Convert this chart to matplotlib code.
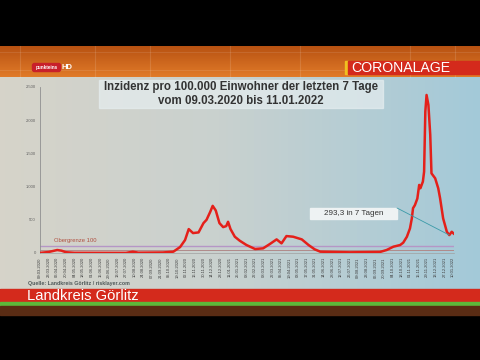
import matplotlib
matplotlib.use('Agg')
import matplotlib.pyplot as plt
import matplotlib.dates as mdates
from matplotlib.patches import Rectangle, FancyBboxPatch, ConnectionPatch
import numpy as np
import pandas as pd

plt.rcParams['font.family'] = ['Liberation Sans', 'DejaVu Sans']

# 7-Tage-Inzidenz Landkreis Görlitz
dates = [
    '2020-03-09', '2020-03-23', '2020-03-30', '2020-04-06', '2020-04-13',
    '2020-04-20', '2020-05-04', '2020-07-27', '2020-08-07', '2020-08-16',
    '2020-09-25', '2020-10-12', '2020-10-23', '2020-10-31', '2020-11-06',
    '2020-11-13', '2020-11-22', '2020-11-30', '2020-12-05', '2020-12-11',
    '2020-12-15', '2020-12-20', '2020-12-26', '2021-01-01', '2021-01-06',
    '2021-01-09', '2021-01-13', '2021-01-20', '2021-01-28', '2021-02-08',
    '2021-02-22', '2021-03-07', '2021-03-18', '2021-03-29', '2021-04-06',
    '2021-04-14', '2021-04-25', '2021-05-09', '2021-05-20', '2021-05-30',
    '2021-06-08', '2021-07-26', '2021-09-13', '2021-09-24', '2021-10-05',
    '2021-10-16', '2021-10-21', '2021-10-27', '2021-11-01', '2021-11-04',
    '2021-11-06', '2021-11-09', '2021-11-13', '2021-11-16', '2021-11-18',
    '2021-11-22', '2021-11-24', '2021-11-26', '2021-11-28', '2021-12-01',
    '2021-12-04', '2021-12-06', '2021-12-12', '2021-12-17', '2021-12-20',
    '2021-12-25', '2021-12-31', '2022-01-04', '2022-01-08', '2022-01-11',
]
incidence = [
    2, 15, 30, 45, 35,
    12, 3, 2, 20, 5,
    8, 20, 90, 195, 360,
    300, 310, 450, 500, 620,
    710, 640, 450, 390, 405,
    470, 360, 245, 185, 120,
    60, 70, 135, 205, 145,
    255, 245, 205, 120, 55,
    20, 10, 15, 45, 95,
    120, 155, 245, 370, 520,
    675, 720, 820, 1025, 975,
    1075, 1225, 2130, 2380, 2230,
    1780, 1200, 1125, 975, 825,
    520, 320, 270, 320, 293.3,
]

y_ticks = [0, 500, 1000, 1500, 2000, 2500]
y_labels = ['0', '500', '1.000', '1.500', '2.000', '2.500']
limit_value = 100
lower_value = 50
start, end = '2020-03-09', '2022-01-11'

fig = plt.figure(figsize=(4.8, 3.6), dpi=100)
fig.patch.set_facecolor('black')

# frame in pixel coordinates
bg = fig.add_axes([0, 0, 1, 1])
bg.set_xlim(0, 480)
bg.set_ylim(360, 0)
bg.axis('off')

# orange band on top
top = np.linspace(0, 1, 40)[:, None]
c1, c2 = np.array([0.72, 0.32, 0.07]), np.array([0.88, 0.48, 0.16])
band = c1 + (c2 - c1) * top[..., None]
band = np.repeat(band, 2, axis=1)
bg.imshow(band, extent=[0, 480, 77, 46], aspect='auto', zorder=0)
for x in [20, 95, 150, 230, 300, 410, 455]:
    bg.plot([x, x], [46, 77], color='white', alpha=0.12, lw=0.8)
for y in [52, 70]:
    bg.plot([0, 480], [y, y], color='white', alpha=0.10, lw=0.8)

# chart background gradient
xs = np.linspace(0, 1, 200)
left = np.array([0.84, 0.83, 0.79])
mid = np.array([0.79, 0.82, 0.81])
right = np.array([0.64, 0.79, 0.85])
grad = np.where(xs[:, None] < 0.45,
                left + (mid - left) * (xs[:, None] / 0.45),
                mid + (right - mid) * ((xs[:, None] - 0.45) / 0.55))
bg.imshow(grad[None, :, :], extent=[0, 480, 289, 77], aspect='auto', zorder=0)

# bottom bands
bg.add_patch(Rectangle((0, 289), 480, 13, color='#d42a1c', zorder=1))
bg.add_patch(Rectangle((0, 302), 480, 3.5, color='#5db83a', zorder=1))
bg.add_patch(Rectangle((0, 305.5), 480, 9, color='#5a2c14', zorder=1))
bg.text(27, 296, 'Landkreis Görlitz', color='white', fontsize=10.6,
        va='center', ha='left', zorder=2)
bg.text(28, 283.5, 'Quelle: Landkreis Görlitz / risklayer.com', color='#4e5858',
        fontsize=3.8, va='center', ha='left', weight='bold', zorder=2)

# channel logo
bg.add_patch(FancyBboxPatch((33, 64), 27, 7, boxstyle='round,pad=0.5,rounding_size=2',
                            color='#c8202a', zorder=2))
bg.text(46.5, 67, 'punkteins', color='white', fontsize=3.3, weight='bold',
        ha='center', va='center', zorder=3)
bg.text(61.5, 67.5, 'HD', color='white', fontsize=5.5, weight='bold',
        ha='left', va='center', zorder=3)

# CORONALAGE tag
bg.add_patch(Rectangle((345, 61), 3, 13, color='#f0c020', zorder=2))
bg.add_patch(Rectangle((348, 61), 132, 13, color='#d42a1c', zorder=2))
bg.text(351, 67.8, 'CORONALAGE', color='white', fontsize=10.2, ha='left',
        va='center', zorder=3)

# title box
bg.add_patch(Rectangle((99, 80), 284, 28, color='#e6eef0', alpha=0.7, zorder=2))
bg.text(241, 94, 'Inzidenz pro 100.000 Einwohner der letzten 7 Tage\nvom 09.03.2020 bis 11.01.2022',
        color='#333333', fontsize=8.3, weight='bold', ha='center', va='center',
        linespacing=1.15, zorder=3)

# chart
ax = fig.add_axes([40 / 480, 1 - 253 / 360, 413.6 / 480, (253 - 87) / 360])
ax.patch.set_alpha(0)
ax.set_xlim(pd.Timestamp(start), pd.Timestamp(end))
ax.set_ylim(0, 2500)

ax.axhline(limit_value, color='#b596c6', lw=1.0, zorder=1)
ax.axhline(lower_value, color='#b08a8a', lw=0.7, zorder=1)
ax.text(pd.Timestamp('2020-03-31'), 150, 'Obergrenze 100', color='#b05040',
        fontsize=4.2, ha='left', va='bottom')

ax.plot(pd.to_datetime(dates), incidence, color='#e4201a', lw=1.8,
        solid_joinstyle='round', zorder=3)

ticks = pd.date_range(start, end, freq='14D')
ax.set_xticks(ticks)
ax.set_xticklabels([t.strftime('%d.%m.%Y') for t in ticks], rotation=90,
                   fontsize=3, color='#404040')
ax.set_yticks(y_ticks)
ax.set_yticklabels(y_labels, fontsize=3, color='#606060')
ax.tick_params(axis='both', length=0, pad=3)
for s in ['top', 'right']:
    ax.spines[s].set_visible(False)
ax.spines['left'].set_color('#909090')
ax.spines['left'].set_linewidth(0.6)
ax.spines['bottom'].set_color('#a0a0a0')
ax.spines['bottom'].set_linewidth(0.5)

# value box with connector
bg.add_patch(Rectangle((310, 208), 87, 11, color='#eef2f3', zorder=4))
bg.text(353.5, 213.7, '293,3 in 7 Tagen', color='#333333', fontsize=5.8,
        ha='center', va='center', zorder=5)
end_point = (mdates.date2num(pd.Timestamp('2022-01-04')), 270)
con = ConnectionPatch(xyA=(397, 208), coordsA=bg.transData,
                      xyB=end_point, coordsB=ax.transData,
                      color='#3a9aa8', lw=0.6, zorder=4)
fig.add_artist(con)

fig.savefig('out.png', dpi=100, facecolor=fig.get_facecolor())
